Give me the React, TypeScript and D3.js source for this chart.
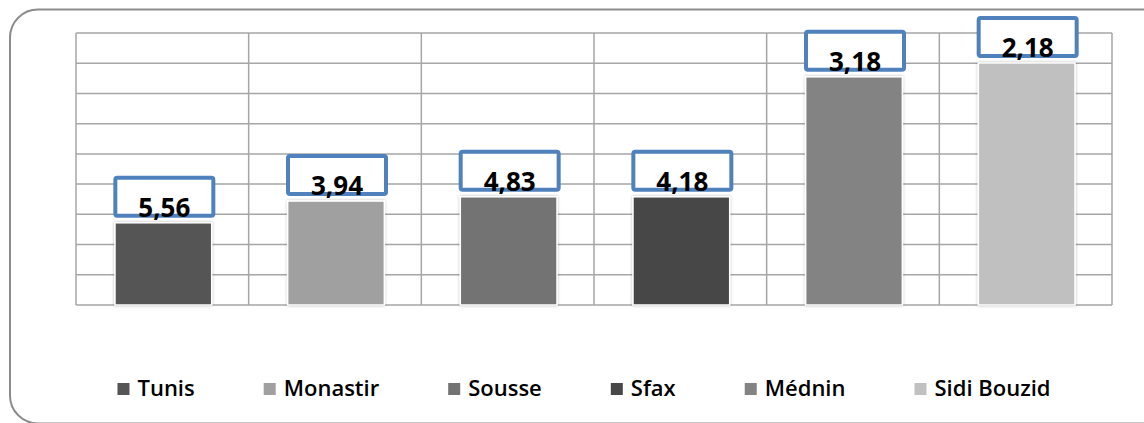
import React, { useEffect, useRef } from "react";
import * as d3 from "d3";

// Governorates shown on the x axis and in the legend
const categories = ["Tunis", "Monastir", "Sousse", "Sfax", "Médnin", "Sidi Bouzid"];
// Bar heights (axis units, no tick labels printed)
const barValues = [2.72, 3.44, 3.58, 3.58, 7.55, 8.01];
// Annotation text placed in the framed boxes above each bar
const boxLabels = ["5,56", "3,94", "4,83", "4,18", "3,18", "2,18"];
// Grey fills per governorate
const fills = ["#555555", "#a0a0a0", "#737373", "#474747", "#838383", "#c0c0c0"];
// Value axis: gridlines every unit
const yTicks = [0, 1, 2, 3, 4, 5, 6, 7, 8, 9];

const W = 1144;
const H = 423;

export default function App() {
  const ref = useRef<SVGSVGElement | null>(null);

  useEffect(() => {
    const svg = d3.select(ref.current);
    svg.selectAll("*").remove();

    const plot = { left: 76, right: 1112, top: 33, bottom: 305 };

    const defs = svg.append("defs");
    const f = defs
      .append("filter")
      .attr("id", "barShadow")
      .attr("x", "-10%")
      .attr("y", "-10%")
      .attr("width", "120%")
      .attr("height", "120%");
    f.append("feDropShadow")
      .attr("dx", 0)
      .attr("dy", 0)
      .attr("stdDeviation", 1.6)
      .attr("flood-color", "#000")
      .attr("flood-opacity", 0.28);

    // Outer chart frame
    svg
      .append("rect")
      .attr("x", 10)
      .attr("y", 9.5)
      .attr("width", 1160)
      .attr("height", 414)
      .attr("rx", 28)
      .attr("fill", "#fff")
      .attr("stroke", "#8c8c8c")
      .attr("stroke-width", 2);

    const x = d3
      .scaleBand<string>()
      .domain(categories)
      .range([plot.left, plot.right])
      .paddingInner(0.44)
      .paddingOuter(0.22);

    const y = d3.scaleLinear().domain([0, 9]).range([plot.bottom, plot.top]);

    const grid = svg.append("g").attr("stroke", "#a6a6a6").attr("stroke-width", 1.5);
    grid
      .selectAll("line.h")
      .data(yTicks)
      .join("line")
      .attr("class", "h")
      .attr("x1", plot.left)
      .attr("x2", plot.right)
      .attr("y1", (d) => y(d))
      .attr("y2", (d) => y(d));

    const step = x.step();
    const cellEdges = d3.range(categories.length + 1).map((i) => plot.left + i * step);
    grid
      .selectAll("line.v")
      .data(cellEdges)
      .join("line")
      .attr("class", "v")
      .attr("x1", (d) => d)
      .attr("x2", (d) => d)
      .attr("y1", plot.top)
      .attr("y2", plot.bottom);

    // Bars
    svg
      .append("g")
      .selectAll("rect")
      .data(categories)
      .join("rect")
      .attr("x", (d) => x(d)! + 1)
      .attr("y", (d, i) => y(barValues[i]))
      .attr("width", x.bandwidth())
      .attr("height", (d, i) => plot.bottom - y(barValues[i]))
      .attr("fill", (d, i) => fills[i])
      .attr("stroke", "#fff")
      .attr("stroke-width", 1.5)
      .attr("filter", "url(#barShadow)");

    // Framed value boxes
    const boxW = 98;
    const boxH = 38;
    const gap = 7;
    const boxes = svg
      .append("g")
      .selectAll("g")
      .data(categories)
      .join("g")
      .attr("transform", (d, i) => {
        const cx = x(d)! + x.bandwidth() / 2 + 2;
        const bottom = y(barValues[i]) - gap;
        return `translate(${cx},${bottom})`;
      });
    boxes
      .append("rect")
      .attr("x", -boxW / 2)
      .attr("y", -boxH)
      .attr("width", boxW)
      .attr("height", boxH)
      .attr("rx", 2)
      .attr("fill", "#fff")
      .attr("stroke", "#4f81bd")
      .attr("stroke-width", 4);
    boxes
      .append("text")
      .attr("x", 0)
      .attr("y", 1)
      .attr("text-anchor", "middle")
      .attr("font-family", "'Open Sans', sans-serif")
      .attr("font-weight", 700)
      .attr("font-size", 26)
      .attr("fill", "#000")
      .text((d, i) => boxLabels[i]);

    // Legend, centred under the plot
    const legend = svg.append("g");
    const items = legend
      .selectAll("g")
      .data(categories)
      .join("g");
    items
      .append("rect")
      .attr("width", 12)
      .attr("height", 12)
      .attr("y", -13)
      .attr("fill", (d, i) => fills[i]);
    const texts = items
      .append("text")
      .attr("x", 20)
      .attr("y", 0)
      .attr("font-family", "'Open Sans', sans-serif")
      .attr("font-weight", 600)
      .attr("font-size", 22)
      .attr("fill", "#000")
      .text((d) => d);

    const widths: number[] = [];
    texts.each(function () {
      widths.push((this as SVGTextElement).getComputedTextLength());
    });
    const itemGap = 69;
    const itemW = widths.map((w) => 20 + w);
    const total = d3.sum(itemW) + itemGap * (itemW.length - 1);
    let cursor = 584 - total / 2;
    const offsets: number[] = [];
    itemW.forEach((w) => {
      offsets.push(cursor);
      cursor += w + itemGap;
    });
    items.attr("transform", (d, i) => `translate(${offsets[i]},396)`);
  }, []);

  return (
    <svg
      ref={ref}
      width={W}
      height={H}
      style={{ position: "absolute", left: 0, top: 0, background: "#fff" }}
    />
  );
}
